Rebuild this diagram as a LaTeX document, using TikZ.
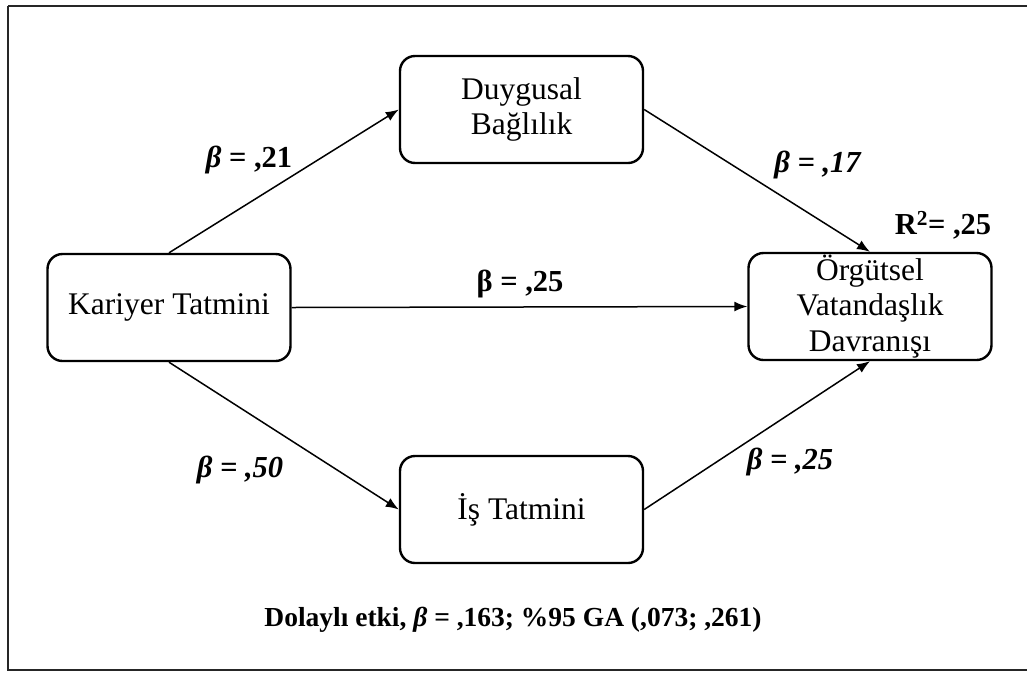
\documentclass[tikz,border=0pt]{standalone}
\usepackage{fontspec}
\setmainfont{Liberation Serif}
\usetikzlibrary{arrows.meta}
\begin{document}
\begin{tikzpicture}[x=1pt,y=-1pt,
  box/.style={draw,line width=2.4pt,rounded corners=15pt,minimum width=243pt,
    minimum height=107pt,align=center,inner sep=0pt,
    font=\fontsize{31.5}{35.5}\selectfont},
  link/.style={line width=1.5pt,-{Latex[length=13pt,width=10pt]}},
  coef/.style={font=\bfseries\fontsize{30.5}{34}\selectfont,inner sep=0pt}]
\useasboundingbox (0,0) rectangle (1027,673);
% outer frame
\draw[line width=2.2pt,black!85] (8,6) -- (8,670) -- (1040,670) (8,6) -- (1040,6);
% constructs
\node[box] (db) at (521.5,109.5) {Duygusal\\Bağlılık};
\node[box] (kt) at (169,307.5) {Kariyer Tatmini};
\node[box] (ov) at (870,306.5) {Örgütsel\\Vatandaşlık\\Davranışı};
\node[box] (it) at (521.5,509.5) {İş Tatmini};
% paths
\draw[link] (kt.north) -- (db.west);
\draw[link] (db.east) -- (ov.north);
\draw[link] (kt.east) -- (ov.west);
\draw[link] (kt.south) -- (it.west);
\draw[link] (it.east) -- (ov.south);
% coefficients
\node[coef] (c1) at (249,160) {\textit{β} = ,21};
\node[coef] (c2) at (818,165) {\textit{β = ,17}};
\node[coef] (c3) at (520,284) {β = ,25};
\node[coef] (c4) at (240,470) {\textit{β = ,50}};
\node[coef] (c5) at (790,462) {\textit{β = ,25}};
\node[coef] (r2) at (943,225) {R\textsuperscript{2}= ,25};
\node[font=\bfseries\fontsize{27.5}{32}\selectfont,inner sep=0pt] (note) at (513,620)
  {Dolaylı etki, \textit{β} = ,163; \%95 GA (,073; ,261)};
\end{tikzpicture}
\end{document}
